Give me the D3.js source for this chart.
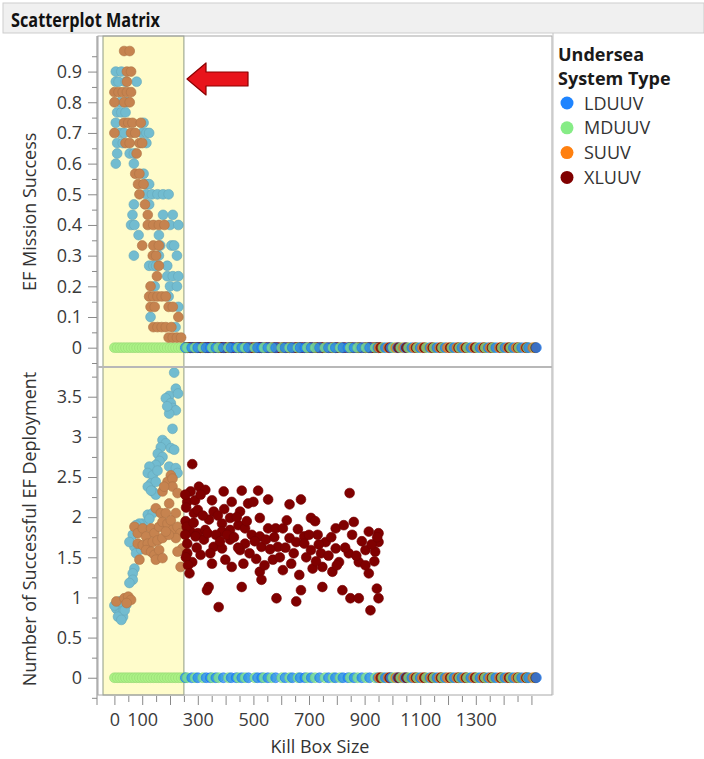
<!DOCTYPE html>
<html>
<head>
<meta charset="utf-8">
<script src="https://cdn.jsdelivr.net/npm/d3@7"></script>
<style>
  body { margin: 0; background: #fff; }
  text { font-family: "Open Sans", "Noto Sans", sans-serif; }
</style>
</head>
<body>
<script>
// ---- data -------------------------------------------------------------
const systemTypes = ["LDUUV", "MDUUV", "SUUV", "XLUUV"];

// EF Mission Success (non-zero records), [kill box size, success]
const ldSuccess = [
  [5,.9],[25,.9],[5,.867],[15,.867],[40,.867],[80,.867],[20,.8],[45,.8],
  [10,.767],[25,.767],[40,.767],[5,.733],[105,.733],[20,.7],[35,.7],[100,.7],
  [115,.7],[125,.7],[10,.667],[30,.667],[115,.667],[10,.633],[55,.633],[70,.633],
  [5,.6],[70,.6],[105,.567],[115,.533],[125,.533],[115,.5],[135,.5],[155,.5],
  [175,.5],[195,.5],[70,.467],[125,.467],[65,.433],[175,.433],[210,.433],[60,.4],
  [72,.4],[200,.4],[230,.4],[87,.367],[160,.367],[165,.333],[205,.333],[215,.333],
  [70,.3],[160,.3],[225,.3],[125,.267],[140,.267],[150,.267],[190,.267],[190,.233],
  [210,.233],[230,.233],[145,.2],[200,.2],[225,.2],[195,.167],[230,.133],[130,.1],
  [220,.067]
];
const suSuccess = [
  [35,.967],[55,.967],[45,.9],[60,.9],[45,.867],[0,.833],[15,.833],[30,.833],
  [45,.833],[60,.833],[0,.8],[35,.8],[55,.8],[35,.733],[50,.733],[65,.733],
  [95,.733],[0,.7],[60,.7],[75,.7],[40,.667],[55,.667],[90,.667],[100,.667],
  [80,.633],[75,.567],[90,.567],[85,.533],[105,.533],[90,.5],[110,.467],[120,.433],
  [120,.4],[140,.4],[160,.4],[180,.4],[100,.333],[140,.333],[160,.333],[138,.3],
  [150,.3],[160,.267],[153,.233],[130,.2],[125,.167],[140,.167],[155,.167],[170,.167],
  [185,.167],[130,.133],[145,.133],[195,.133],[210,.133],[230,.1],[140,.067],[155,.067],
  [170,.067],[185,.067],[205,.067],[195,.033],[210,.033],[225,.033],[240,.033]
];

// Number of Successful EF Deployment (non-zero records), [kill box size, count]
const ldDeploy = [
  [215,3.80],[197,3.51],[221,3.60],[229,3.54],[185,3.48],[203,3.42],[209,3.36],[221,3.33],
  [197,3.29],[190,3.38],[209,3.10],[173,2.96],[185,2.92],[167,2.87],[203,2.86],[215,2.84],
  [156,2.79],[173,2.75],[162,2.70],[149,2.65],[126,2.63],[197,2.63],[221,2.61],[227,2.55],
  [120,2.55],[138,2.52],[155,2.58],[132,2.42],[149,2.44],[120,2.38],[138,2.32],[149,2.28],
  [132,2.33],[120,2.03],[102,1.92],[138,2.05],[126,1.98],[90,1.92],[78,1.90],[66,1.78],
  [96,1.83],[72,1.63],[54,1.69],[78,1.55],[96,1.60],[72,1.36],[66,1.30],[66,1.22],
  [54,1.18],[7,0.86],[19,0.80],[31,0.83],[43,0.91],[31,0.76],[13,0.76],[25,0.72],
  [0,0.90],[37,0.84],[20,0.95]
];
const suDeploy = [
  [203,2.52],[191,2.44],[209,2.48],[209,2.38],[173,2.32],[179,2.38],[227,2.30],[197,2.17],
  [149,2.11],[167,2.05],[185,2.05],[221,2.05],[72,1.88],[84,1.80],[102,1.86],[114,1.76],
  [132,1.86],[144,1.80],[161,1.88],[173,1.94],[191,1.92],[203,1.96],[209,1.84],[227,1.88],
  [238,1.80],[221,1.74],[84,1.67],[102,1.65],[120,1.67],[138,1.69],[155,1.71],[173,1.74],
  [114,1.59],[132,1.57],[144,1.53],[161,1.59],[90,1.47],[149,1.47],[173,1.49],[238,1.38],
  [244,1.61],[227,1.57],[196,1.78],[185,1.82],[7,0.95],[36,0.99],[50,1.01],[60,0.97],
  [44,0.93]
];
// XLUUV never reaches mission success (0), but deploys
const xlDeploy = [
  [280,2.66],[274,2.32],[304,2.38],[327,2.34],[351,2.21],[393,2.32],[458,2.33],[517,2.33],
  [553,2.22],[422,2.19],[481,2.17],[500,2.19],[630,2.16],[671,2.22],[846,2.30],[262,2.19],
  [290,2.21],[357,2.07],[416,1.99],[452,2.07],[523,1.99],[340,1.97],[387,1.92],[286,2.05],
  [300,2.09],[553,1.86],[580,1.86],[606,1.86],[707,1.99],[722,1.95],[796,1.86],[825,1.90],
  [861,1.94],[274,1.82],[300,1.80],[327,1.84],[387,1.82],[416,1.84],[446,1.90],[470,1.86],
  [494,1.78],[523,1.76],[630,1.74],[683,1.76],[731,1.78],[760,1.69],[915,1.82],[950,1.80],
  [262,1.67],[310,1.53],[357,1.63],[387,1.61],[416,1.72],[452,1.59],[470,1.67],[529,1.63],
  [588,1.63],[654,1.69],[683,1.67],[707,1.59],[743,1.55],[796,1.61],[843,1.55],[903,1.59],
  [938,1.57],[950,1.69],[280,1.44],[351,1.42],[399,1.47],[422,1.38],[464,1.42],[523,1.32],
  [540,1.40],[570,1.47],[606,1.34],[636,1.42],[665,1.28],[713,1.36],[748,1.38],[784,1.32],
  [808,1.44],[879,1.44],[915,1.30],[903,1.40],[339,1.13],[458,1.13],[529,1.22],[583,0.99],
  [654,0.95],[671,1.09],[748,1.13],[820,1.09],[849,0.99],[879,0.99],[944,1.11],[950,0.99],
  [921,0.84],[375,0.88],[333,1.09],[255,2.28],[258,2.12],[256,1.95],[260,1.88],[255,1.78],
  [262,1.55],[257,1.50],[265,1.40],[270,1.30],[285,1.93],[292,1.76],[296,1.62],[310,2.28],
  [318,2.02],[322,1.72],[335,1.80],[345,1.55],[365,1.78],[372,2.02],[380,1.70],[395,2.10],
  [405,1.78],[430,1.75],[440,2.00],[445,1.62],[476,1.95],[486,1.55],[505,1.70],[510,1.48],
  [545,1.72],[560,1.60],[575,1.75],[595,1.50],[615,1.62],[620,1.96],[645,1.55],[660,1.85],
  [690,1.50],[700,1.78],[725,1.45],[735,1.66],[770,1.52],[780,1.75],[800,1.40],[830,1.62],
  [855,1.78],[870,1.52],[890,1.70],[925,1.66],[935,1.45],[945,1.75]
];

// Kill box sizes where both responses are 0
const mdZeroKB = [
  0,10,20,30,40,50,60,70,80,90,100,110,120,130,140,150,160,170,180,190,200,210,220,230,240,250,
  262,290,318,352,375,410,446,470,505,538,566,602,630,660,694,722,757,786,812,848,875,905,938,
  966,1002,1030,1058,1090,1122,1150,1180,1214,1242,1270,1305,1334,1362,1395,1426,1455,1486,1512
];
const ldZeroKB = [
  255,278,300,330,345,365,392,420,438,458,482,515,530,552,580,614,640,668,685,708,738,770,795,
  822,840,862,890,918,948,975,995,1018,1045,1070,1100,1135,1160,1190,1222,1250,1282,1315,1345,
  1372,1405,1435,1465,1490,1518
];
const suZeroKB = [
  952,985,1012,1040,1078,1108,1140,1170,1198,1232,1260,1292,1325,1352,1385,1415,1445,1478,1505
];
const xlZeroKB = [
  958,990,1022,1050,1085,1115,1145,1175,1208,1238,1265,1298,1330,1358,1390,1420,1452,1482,1515
];

// highlighted kill box range
const selectedRange = [-41, 250];

// axis ticks and labels
const successTicks = [0,.1,.2,.3,.4,.5,.6,.7,.8,.9];
const successLabels = ["0","0.1","0.2","0.3","0.4","0.5","0.6","0.7","0.8","0.9"];
const successMinor = [-.05,.05,.15,.25,.35,.45,.55,.65,.75,.85,.95];
const deployTicks = [0,.5,1,1.5,2,2.5,3,3.5];
const deployLabels = ["0","0.5","1","1.5","2","2.5","3","3.5"];
const deployMinor = [-.25,.25,.75,1.25,1.75,2.25,2.75,3.25,3.75];
const kbTicks = [0,50,100,150,200,250,300,350,400,450,500,550,600,650,700,750,800,850,
                 900,950,1000,1050,1100,1150,1200,1250,1300,1350,1400,1450,1500];
const kbLabelValues = [0,100,300,500,700,900,1100,1300];

// ---- styling ----------------------------------------------------------
const colors = { LDUUV: "#1e84ff", MDUUV: "#86ec86", SUUV: "#ff8010", XLUUV: "#800000" };
const dimColors = { LDUUV: "#72bcd0", MDUUV: "#abf285", SUUV: "#c6834f", XLUUV: "#8a3020" };
const R = 4.9;
const FONT = 18;

const W = 704, H = 759;
const frame = { left: 98, right: 552, top: 36, mid: 367, bottom: 695 };

const svg = d3.select("body").append("svg").attr("width", W).attr("height", H);

// title bar
svg.append("rect").attr("x", 3).attr("y", 3).attr("width", W - 3).attr("height", 30)
  .attr("fill", "#f0f0f0").attr("stroke", "#cdcdcd");
svg.append("text").attr("x", 11).attr("y", 27)
  .attr("font-size", 19).attr("font-weight", 700).attr("fill", "#111")
  .attr("textLength", 149).attr("lengthAdjust", "spacingAndGlyphs")
  .text("Scatterplot Matrix");

// scales
const x = d3.scaleLinear().domain([-59, 1574]).range([frame.left, frame.right]);
const yTop = d3.scaleLinear().domain([-0.063, 1.016]).range([frame.mid, frame.top]);
const yBot = d3.scaleLinear().domain([-0.215, 3.87]).range([frame.bottom, frame.mid]);

// selection band spanning both panels
svg.append("rect")
  .attr("x", x(selectedRange[0])).attr("y", frame.top)
  .attr("width", x(selectedRange[1]) - x(selectedRange[0]))
  .attr("height", frame.bottom - frame.top)
  .attr("fill", "#fffccb").attr("stroke", "#8e9a86").attr("stroke-width", 1);

const colorFor = (type, kb) => (kb <= selectedRange[1] ? dimColors[type] : colors[type]);

// assemble point records per panel
function recs(type, arr) { return arr.map(d => ({ type, kb: d[0], v: d[1] })); }
function zeros(type, arr) { return arr.map(kb => ({ type, kb, v: 0 })); }
const byKb = (a, b) => a.kb - b.kb;

// XLUUV zero-success rows sit beneath the other types on the top panel
const topZero = zeros("XLUUV", xlDeploy.map(d => d[0])).sort(byKb).concat(
  [].concat(zeros("MDUUV", mdZeroKB), zeros("LDUUV", ldZeroKB), zeros("SUUV", suZeroKB),
            zeros("XLUUV", xlZeroKB)).sort(byKb)
);
const topPts = topZero.concat(recs("LDUUV", ldSuccess), recs("SUUV", suSuccess));

const botZero = [].concat(
  zeros("MDUUV", mdZeroKB), zeros("LDUUV", ldZeroKB), zeros("SUUV", suZeroKB),
  zeros("XLUUV", xlZeroKB)
).sort(byKb);
const botPts = botZero.concat(recs("LDUUV", ldDeploy), recs("SUUV", suDeploy), recs("XLUUV", xlDeploy));

function drawPoints(data, y, clipId, y0, y1) {
  svg.append("clipPath").attr("id", clipId).append("rect")
    .attr("x", frame.left).attr("y", y0).attr("width", frame.right - frame.left).attr("height", y1 - y0);
  svg.append("g").attr("clip-path", `url(#${clipId})`)
    .selectAll("circle").data(data).join("circle")
    .attr("cx", d => x(d.kb)).attr("cy", d => y(d.v)).attr("r", R)
    .attr("fill", d => colorFor(d.type, d.kb))
    // overlapping zero-valued markers let the ones beneath show through
    .attr("fill-opacity", d => (d.v === 0 && d.kb > selectedRange[1] ? 0.72 : 1))
    .attr("stroke", d => d3.color(colorFor(d.type, d.kb)).darker(0.35))
    .attr("stroke-width", 0.6);
}
drawPoints(topPts, yTop, "clipTop", frame.top, frame.mid);
drawPoints(botPts, yBot, "clipBot", frame.mid, frame.bottom);

// panel frames
const frameColor = "#a8a8a8";
svg.append("rect").attr("x", frame.left).attr("y", frame.top)
  .attr("width", frame.right - frame.left).attr("height", frame.bottom - frame.top)
  .attr("fill", "none").attr("stroke", frameColor);
svg.append("line").attr("x1", frame.left).attr("x2", frame.right)
  .attr("y1", frame.mid).attr("y2", frame.mid)
  .attr("stroke", "#b8b8b8").attr("stroke-width", 2);
// legend separator
svg.append("line").attr("x1", frame.right + 1).attr("x2", frame.right + 1)
  .attr("y1", 33).attr("y2", frame.bottom).attr("stroke", "#c4c4c4");

// axes
const tickColor = "#8a8a8a", labelColor = "#3a3a3a";
function styleAxis(g) {
  g.select(".domain").remove();
  g.selectAll(".tick line").attr("stroke", tickColor);
  g.selectAll(".tick text").attr("fill", labelColor).attr("font-size", FONT)
    .attr("font-family", "'Open Sans', sans-serif");
}
function yAxis(scale, ticks, labels, minor) {
  svg.append("g").attr("transform", `translate(${frame.left - 1},0)`)
    .call(d3.axisLeft(scale).tickValues(ticks).tickSize(9).tickPadding(6)
      .tickFormat((d, i) => labels[i]))
    .call(styleAxis);
  svg.append("g").attr("transform", `translate(${frame.left - 1},0)`)
    .call(d3.axisLeft(scale).tickValues(minor).tickSize(5).tickFormat(""))
    .call(styleAxis);
}
yAxis(yTop, successTicks, successLabels, successMinor);
yAxis(yBot, deployTicks, deployLabels, deployMinor);
svg.append("line").attr("x1", frame.left - 1).attr("x2", frame.left - 1)
  .attr("y1", frame.top).attr("y2", frame.bottom + 10).attr("stroke", tickColor);

// x axis
svg.append("g").attr("transform", `translate(0,${frame.bottom + 1})`)
  .call(d3.axisBottom(x).tickValues(kbTicks.filter(d => d % 100 === 0)).tickSize(9).tickFormat(""))
  .call(styleAxis);
svg.append("g").attr("transform", `translate(0,${frame.bottom + 1})`)
  .call(d3.axisBottom(x).tickValues(kbTicks.filter(d => d % 100 !== 0)).tickSize(6).tickFormat(""))
  .call(styleAxis);
svg.append("g").attr("transform", `translate(0,${frame.bottom + 1})`)
  .call(d3.axisBottom(x).tickValues(kbLabelValues).tickSize(0).tickPadding(17)
    .tickFormat(d3.format("d")))
  .call(styleAxis);

// axis titles
svg.append("text").attr("transform", `translate(36,${(yTop(0.9) + yTop(-0.06)) / 2 - 7}) rotate(-90)`)
  .attr("text-anchor", "middle").attr("font-size", FONT).attr("fill", "#333")
  .text("EF Mission Success");
svg.append("text").attr("transform", `translate(36,${(frame.mid + frame.bottom) / 2 - 2}) rotate(-90)`)
  .attr("text-anchor", "middle").attr("font-size", FONT).attr("fill", "#333")
  .text("Number of Successful EF Deployment");
svg.append("text").attr("x", 320).attr("y", 753)
  .attr("text-anchor", "middle").attr("font-size", FONT).attr("fill", "#333")
  .text("Kill Box Size");

// legend
const lg = svg.append("g");
lg.append("text").attr("x", 558).attr("y", 61).attr("font-size", FONT).attr("font-weight", 700)
  .attr("fill", "#1a1a1a").text("Undersea");
lg.append("text").attr("x", 558).attr("y", 85).attr("font-size", FONT).attr("font-weight", 700)
  .attr("fill", "#1a1a1a").text("System Type");
const item = lg.selectAll("g.item").data(systemTypes).join("g").attr("class", "item")
  .attr("transform", (d, i) => `translate(0,${103 + i * 24.8})`);
item.append("circle").attr("cx", 567).attr("cy", 0).attr("r", 6.5).attr("fill", d => colors[d]);
item.append("text").attr("x", 584).attr("y", 6.5).attr("font-size", FONT).attr("fill", "#333").text(d => d);

// pointer arrow toward the top of the selected band
svg.append("path")
  .attr("d", "M187,79 L206,63 L206,72 L248,72 L248,86 L206,86 L206,95 Z")
  .attr("fill", "#e8141b").attr("stroke", "#8b0000").attr("stroke-width", 1.2)
  .attr("stroke-linejoin", "round");
</script>
</body>
</html>
